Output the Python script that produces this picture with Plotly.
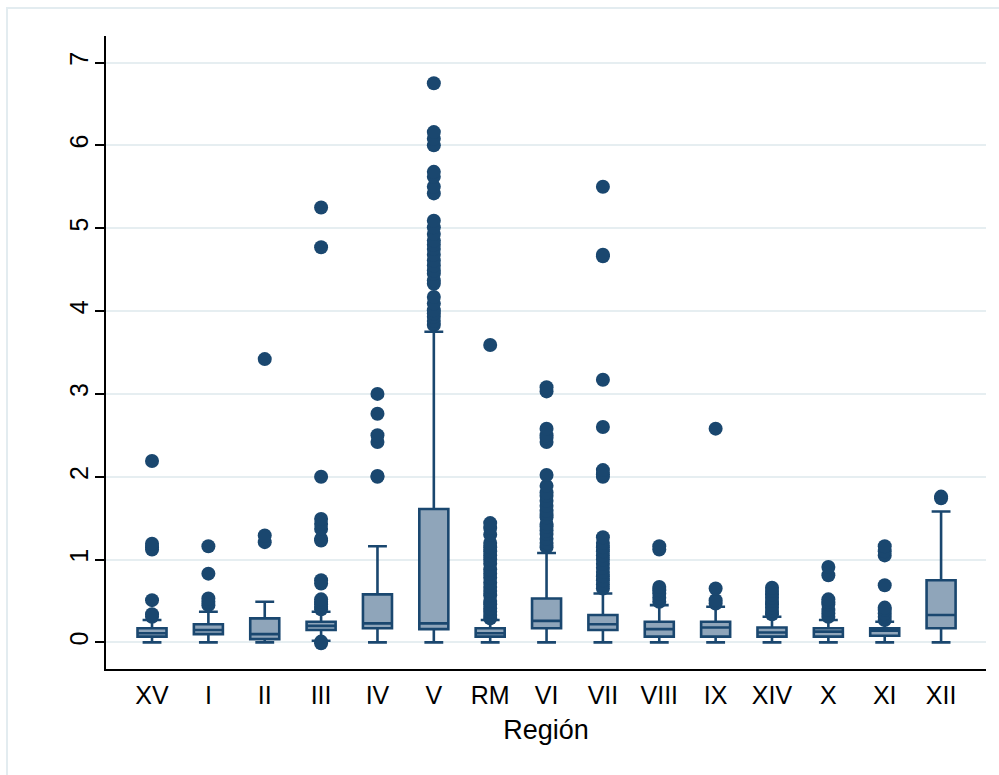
import plotly.graph_objects as go

regions = ["XV", "I", "II", "III", "IV", "V", "RM", "VI", "VII", "VIII", "IX", "XIV", "X", "XI", "XII"]
q1 =        [0.07, 0.10, 0.04, 0.15, 0.17, 0.16, 0.07, 0.17, 0.15, 0.07, 0.07, 0.07, 0.07, 0.08, 0.17]
median =    [0.11, 0.15, 0.10, 0.20, 0.23, 0.23, 0.11, 0.26, 0.22, 0.16, 0.18, 0.12, 0.13, 0.14, 0.33]
q3 =        [0.17, 0.22, 0.29, 0.25, 0.58, 1.61, 0.17, 0.53, 0.33, 0.25, 0.25, 0.18, 0.17, 0.17, 0.75]
lowerfence = [0.0, 0.0, 0.0, 0.02, 0.0, 0.0, 0.0, 0.0, 0.0, 0.0, 0.0, 0.0, 0.0, 0.0, 0.0]
upperfence = [0.27, 0.37, 0.49, 0.37, 1.16, 3.75, 0.27, 1.08, 0.59, 0.45, 0.43, 0.31, 0.27, 0.25, 1.58]

outliers = {
    "XV": [0.31, 0.34, 0.51, 1.12, 1.15, 1.19, 2.19],
    "I": [0.45, 0.49, 0.53, 0.83, 1.16],
    "II": [1.21, 1.29, 3.42],
    "III": [-0.01, 0.01, 0.40, 0.43, 0.46, 0.49, 0.52, 0.71, 0.75, 1.23, 1.25, 1.37, 1.43, 1.49, 2.0, 4.77, 5.25],
    "IV": [2.0, 2.01, 2.42, 2.5, 2.76, 3.0],
    "V": [3.83, 3.88, 3.93, 3.97, 4.01, 4.09, 4.17, 4.33, 4.37, 4.45, 4.49, 4.55, 4.61, 4.68, 4.75, 4.8,
          4.85, 4.93, 5.01, 5.09, 5.42, 5.5, 5.62, 5.68, 6.0, 6.08, 6.16, 6.75],
    "RM": [0.29, 0.33, 0.37, 0.41, 0.46, 0.5, 0.57, 0.62, 0.67, 0.72, 0.78, 0.83, 0.88, 0.95, 1.0,
           1.05, 1.1, 1.15, 1.2, 1.3, 1.38, 1.44, 3.59],
    "VI": [1.15, 1.2, 1.25, 1.31, 1.35, 1.4, 1.43, 1.51, 1.55, 1.59, 1.65, 1.71, 1.77, 1.81, 1.89,
           2.02, 2.42, 2.47, 2.5, 2.58, 3.03, 3.08],
    "VII": [0.65, 0.7, 0.75, 0.8, 0.85, 0.9, 0.95, 1.0, 1.05, 1.1, 1.15, 1.2, 1.27, 2.0, 2.03, 2.08,
            2.6, 3.17, 4.66, 4.68, 5.5],
    "VIII": [0.49, 0.54, 0.59, 0.63, 0.67, 1.12, 1.16],
    "IX": [0.47, 0.51, 0.65, 2.58],
    "XIV": [0.34, 0.38, 0.42, 0.46, 0.5, 0.54, 0.58, 0.62, 0.66],
    "X": [0.31, 0.35, 0.39, 0.46, 0.49, 0.52, 0.81, 0.91],
    "XI": [0.27, 0.31, 0.35, 0.39, 0.42, 0.69, 1.05, 1.1, 1.16],
    "XII": [1.74, 1.76],
}

y_ticks = [0, 1, 2, 3, 4, 5, 6, 7]

navy = "#1a476f"
fill = "#8fa5ba"
font_family = "Liberation Sans, Arial, sans-serif"

fig = go.Figure()

fig.add_trace(go.Box(
    x=regions, q1=q1, median=median, q3=q3,
    lowerfence=lowerfence, upperfence=upperfence,
    boxpoints=False, width=0.515, whiskerwidth=0.65,
    fillcolor=fill, line=dict(color=navy, width=2.6),
    showlegend=False, hoverinfo="skip",
))

ox, oy = [], []
for r in regions:
    for v in outliers[r]:
        ox.append(r)
        oy.append(v)

fig.add_trace(go.Scatter(
    x=ox, y=oy, mode="markers",
    marker=dict(color=navy, size=14, line=dict(width=0)),
    showlegend=False, hoverinfo="skip",
))

fig.update_layout(
    width=999, height=775,
    margin=dict(l=106, r=13, t=36, b=106, autoexpand=False),
    paper_bgcolor="white", plot_bgcolor="white",
    font=dict(family=font_family, color="black", size=25),
    shapes=[dict(type="rect", xref="paper", yref="paper",
                 x0=-0.1125, x1=1.05, y0=-0.2, y1=1.0442,
                 line=dict(color="#e3ecf0", width=2), layer="below")],
)

fig.update_xaxes(
    type="category", categoryorder="array", categoryarray=regions,
    range=[-0.8165, 14.797], automargin=False,
    showline=True, linecolor="black", linewidth=1.5,
    ticks="outside", ticklen=3, tickcolor="rgba(0,0,0,0)",
    showgrid=False, zeroline=False,
    title=dict(text="Región", standoff=12, font=dict(size=27)),
    tickfont=dict(size=25),
)

fig.update_yaxes(
    range=[-0.321, 7.32], automargin=False,
    tickvals=y_ticks, ticktext=[str(t) for t in y_ticks],
    tickangle=-90, ticklabelstandoff=-3,
    showline=True, linecolor="black", linewidth=1.5,
    ticks="outside", ticklen=9, tickcolor="black", tickwidth=1.5,
    showgrid=True, gridcolor="#e6eef1", gridwidth=2,
    zeroline=False,
    tickfont=dict(size=25),
)

fig.write_html("out.html", config={"displayModeBar": False},
               post_script="document.body.style.margin='0';document.body.style.overflow='hidden';")
